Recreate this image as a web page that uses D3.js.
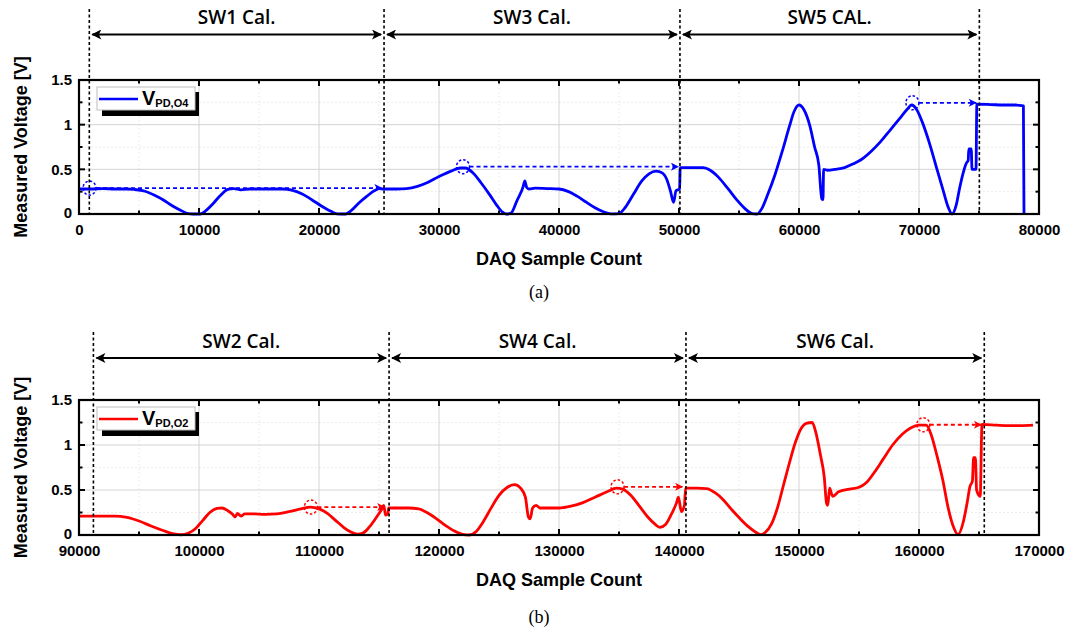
<!DOCTYPE html>
<html>
<head>
<meta charset="utf-8">
<script src="https://cdn.jsdelivr.net/npm/d3@7"></script>
<style>
body { margin: 0; background: #fff; }
</style>
</head>
<body>
<svg id="chart" width="1067" height="635" font-family="Liberation Sans, Arial, sans-serif"></svg>
<script>
// ---- data ----
// panel (a): V_PD,O4 (blue)
var blueX = [0,1000,2000,3000,4000,4600,5500,6300,7000,7800,8500,9100,9500,10100,10600,11200,11800,12400,12900,13500,14200,15500,17000,17800,18600,19400,20200,21000,21500,22200,22700,23300,24000,24600,25000,25400,26500,27300,28200,29000,30000,31000,31800,32200,32900,33500,34200,34800,35300,35600,36000,36500,37000,37150,37300,37500,38000,39000,40000,40800,41500,42300,43000,43700,44300,45000,45500,46200,46900,47500,48100,48600,49000,49300,49550,49750,50050,50100,51000,52000,52600,53300,54100,54800,55500,56100,56500,56900,57400,58000,58600,59200,59600,60000,60400,60900,61300,61650,61900,62000,62050,62400,63000,63800,64500,65200,66000,66800,67600,68400,69000,69400,69800,70300,70900,71500,72000,72450,72750,73100,73400,73700,73950,74100,74150,74350,74420,74750,74820,76000,77000,78000,78700,78750];
var blueV = [0.28,0.28,0.285,0.28,0.28,0.275,0.255,0.21,0.16,0.09,0.04,0.005,0,0,0.04,0.12,0.21,0.275,0.285,0.27,0.28,0.28,0.28,0.265,0.225,0.16,0.09,0.03,0.002,0,0.04,0.12,0.2,0.26,0.285,0.28,0.28,0.285,0.31,0.35,0.42,0.48,0.515,0.515,0.45,0.35,0.22,0.1,0.02,0,0.01,0.15,0.3,0.37,0.3,0.28,0.29,0.285,0.28,0.25,0.2,0.13,0.07,0.025,0.002,0.005,0.07,0.22,0.37,0.45,0.48,0.46,0.38,0.25,0.13,0.26,0.28,0.52,0.52,0.52,0.49,0.41,0.28,0.16,0.06,0.005,0,0.06,0.22,0.44,0.7,0.98,1.15,1.22,1.17,0.99,0.75,0.55,0.17,0.16,0.5,0.49,0.5,0.52,0.56,0.61,0.7,0.81,0.94,1.07,1.17,1.22,1.17,1.02,0.78,0.5,0.27,0.07,0,0.1,0.3,0.47,0.57,0.6,0.73,0.73,0.5,0.5,1.23,1.225,1.22,1.22,1.21,0];

// panel (b): V_PD,O2 (red)
var redX = [90000,91500,93000,94000,95000,96000,97000,97800,98500,99100,99700,100300,100900,101500,101900,102400,102800,103000,103200,103500,103800,104500,105500,106500,107500,108500,109300,110000,110700,111400,112100,112700,113200,113700,114200,114800,115200,115400,115550,115750,115800,116500,117500,118300,119000,119800,120500,121200,121900,122500,123100,123700,124300,125000,125700,126300,126800,127200,127450,127600,127800,128100,128400,129000,130000,131000,132000,133000,134000,134800,135300,136000,136700,137400,138000,138400,138900,139400,139800,139950,140200,140450,140550,141500,142300,143000,143700,144400,145100,145800,146400,146800,147200,147700,148200,148700,149200,149700,150200,150600,151100,151400,151800,152100,152300,152400,152550,152800,153300,154200,155000,155600,156300,157000,157800,158600,159300,160000,160600,161000,161500,162000,162400,162900,163250,163700,164000,164250,164450,164550,164700,164800,165100,165250,166500,167500,168500,169500];
var redV = [0.21,0.21,0.21,0.195,0.155,0.1,0.05,0.015,0.003,0.02,0.07,0.16,0.25,0.295,0.3,0.27,0.23,0.2,0.24,0.21,0.235,0.235,0.23,0.235,0.26,0.29,0.31,0.29,0.24,0.16,0.08,0.03,0.01,0.025,0.09,0.2,0.28,0.33,0.22,0.24,0.3,0.3,0.3,0.29,0.25,0.18,0.11,0.05,0.01,0,0.04,0.15,0.29,0.44,0.53,0.56,0.52,0.42,0.2,0.18,0.3,0.33,0.3,0.3,0.3,0.32,0.36,0.42,0.48,0.52,0.51,0.44,0.32,0.2,0.12,0.085,0.12,0.24,0.36,0.42,0.26,0.33,0.52,0.52,0.515,0.47,0.39,0.28,0.18,0.09,0.03,0.005,0.03,0.12,0.3,0.55,0.8,1.03,1.19,1.24,1.25,1.14,0.88,0.65,0.35,0.33,0.52,0.43,0.48,0.51,0.53,0.58,0.7,0.84,1.0,1.12,1.19,1.22,1.22,1.12,0.88,0.6,0.32,0.08,0.005,0.15,0.35,0.54,0.6,0.86,0.86,0.5,0.43,1.23,1.22,1.215,1.215,1.22];

// calibration windows (dashed boundaries) and their labels
var topBounds = [860, 25420, 50080, 75030];
var topTitles = ["SW1 Cal.", "SW3 Cal.", "SW5 CAL."];
var botBounds = [91200, 115840, 140580, 165440];
var botTitles = ["SW2 Cal.", "SW4 Cal.", "SW6 Cal."];

// dotted circle + dashed arrow markers: [circle x, level, arrow tip x]
var topMarks = [[875, 0.29, 25220], [32000, 0.53, 49930], [69450, 1.245, 74750]];
var botMarks = [[109320, 0.31, 115450], [134880, 0.535, 140280], [160360, 1.225, 165180]];

var topTicks = [0, 10000, 20000, 30000, 40000, 50000, 60000, 70000, 80000];
var botTicks = [90000, 100000, 110000, 120000, 130000, 140000, 150000, 160000, 170000];
var vTicks = [0, 0.5, 1, 1.5];
var vTickLabels = ["0", "0.5", "1", "1.5"];

var svg = d3.select("#chart");
var defs = svg.append("defs");

function head(id, color, w, h) {
  defs.append("marker").attr("id", id)
    .attr("viewBox", "0 0 10 10").attr("refX", 9).attr("refY", 5)
    .attr("markerWidth", w).attr("markerHeight", h).attr("markerUnits", "userSpaceOnUse")
    .attr("orient", "auto-start-reverse")
    .append("path").attr("d", "M0,0 L10,5 L0,10 L2.5,5 Z").attr("fill", color);
}
head("hk", "#000", 11, 10);
head("hb", "#0000ff", 10, 8);
head("hr", "#ff0000", 10, 8);

function drawPanel(o) {
  var left = 79, right = 1039;
  var x = d3.scaleLinear().domain(o.domain).range([left, right]);
  var y = d3.scaleLinear().domain([0, 1.5]).range([o.bottom, o.top]);
  var g = svg.append("g");

  // minor grid (faint)
  var minorX = d3.range(o.domain[0] + 5000, o.domain[1], 10000);
  var minorY = [0.25, 0.75, 1.25];
  g.selectAll(".mgx").data(minorX).enter().append("line")
    .attr("x1", d => x(d)).attr("x2", d => x(d)).attr("y1", o.top).attr("y2", o.bottom)
    .attr("stroke", "#ececec").attr("stroke-width", 1).attr("stroke-dasharray", "2,2");
  g.selectAll(".mgy").data(minorY).enter().append("line")
    .attr("x1", left).attr("x2", right).attr("y1", d => y(d)).attr("y2", d => y(d))
    .attr("stroke", "#ececec").attr("stroke-width", 1).attr("stroke-dasharray", "2,2");

  // major grid
  g.selectAll(".gx").data(o.ticks.slice(1, -1)).enter().append("line")
    .attr("x1", d => x(d)).attr("x2", d => x(d)).attr("y1", o.top).attr("y2", o.bottom)
    .attr("stroke", "#d4d4d4").attr("stroke-width", 1);
  g.selectAll(".gy").data(vTicks.slice(1, -1)).enter().append("line")
    .attr("x1", left).attr("x2", right).attr("y1", d => y(d)).attr("y2", d => y(d))
    .attr("stroke", "#d4d4d4").attr("stroke-width", 1);

  // inward ticks on all four sides
  var allX = d3.range(o.domain[0], o.domain[1] + 1, 5000);
  var allY = [0, 0.25, 0.5, 0.75, 1, 1.25, 1.5];
  function isMajorX(d) { return (d - o.domain[0]) % 10000 === 0; }
  function isMajorY(d) { return (d * 2) % 1 === 0; }
  allX.forEach(function(d) {
    var len = isMajorX(d) ? 6 : 3.5;
    g.append("line").attr("x1", x(d)).attr("x2", x(d)).attr("y1", o.bottom).attr("y2", o.bottom - len)
      .attr("stroke", "#000").attr("stroke-width", 2);
    g.append("line").attr("x1", x(d)).attr("x2", x(d)).attr("y1", o.top).attr("y2", o.top + len)
      .attr("stroke", "#000").attr("stroke-width", 2);
  });
  allY.forEach(function(d) {
    var len = isMajorY(d) ? 6 : 3.5;
    g.append("line").attr("x1", left).attr("x2", left + len).attr("y1", y(d)).attr("y2", y(d))
      .attr("stroke", "#000").attr("stroke-width", 2);
    g.append("line").attr("x1", right).attr("x2", right - len).attr("y1", y(d)).attr("y2", y(d))
      .attr("stroke", "#000").attr("stroke-width", 2);
  });

  // tick labels through d3 axes
  var xAxis = d3.axisBottom(x).tickValues(o.ticks).tickSize(0).tickPadding(10).tickFormat(d3.format("d"));
  var yAxis = d3.axisLeft(y).tickValues(vTicks).tickSize(0).tickPadding(7)
    .tickFormat(function(d, i) { return vTickLabels[i]; });
  var xa = g.append("g").attr("transform", "translate(0," + o.bottom + ")").call(xAxis);
  var ya = g.append("g").attr("transform", "translate(" + left + ",0)").call(yAxis);
  [xa, ya].forEach(function(a) {
    a.select(".domain").remove();
    a.attr("font-family", null).attr("font-size", null);
    a.selectAll("text").attr("font-family", "Liberation Sans, Arial, sans-serif")
      .attr("font-size", 15).attr("font-weight", "bold").attr("fill", "#000");
  });
  ya.selectAll("text").filter(d => d === 0).attr("dy", "0.2em");

  // data line
  var pts = o.xs.map(function(d, i) { return [d, o.vs[i]]; });
  var line = d3.line().x(d => x(d[0])).y(d => y(d[1])).curve(d3.curveMonotoneX);
  g.append("path").datum(pts).attr("d", line)
    .attr("fill", "none").attr("stroke", o.color).attr("stroke-width", 2.8)
    .attr("stroke-linejoin", "round");

  // circle + dashed arrow markers
  o.marks.forEach(function(m) {
    g.append("ellipse").attr("cx", x(m[0])).attr("cy", y(m[1])).attr("rx", 6.5).attr("ry", 7)
      .attr("fill", "none").attr("stroke", o.color).attr("stroke-width", 1.5).attr("stroke-dasharray", "2.5,2");
    g.append("line").attr("x1", x(m[0]) + 6.5).attr("x2", x(m[2])).attr("y1", y(m[1])).attr("y2", y(m[1]))
      .attr("stroke", o.color).attr("stroke-width", 1.8).attr("stroke-dasharray", "4,3")
      .attr("marker-end", "url(#" + o.head + ")");
  });

  // frame
  g.append("rect").attr("x", left).attr("y", o.top).attr("width", right - left).attr("height", o.bottom - o.top)
    .attr("fill", "none").attr("stroke", "#000").attr("stroke-width", 2.2);

  // calibration windows
  o.bounds.forEach(function(b) {
    g.append("line").attr("x1", x(b)).attr("x2", x(b)).attr("y1", o.dashTop).attr("y2", o.bottom)
      .attr("stroke", "#000").attr("stroke-width", 1.6).attr("stroke-dasharray", "3,2.5");
  });
  o.titles.forEach(function(t, i) {
    var a = x(o.bounds[i]), b = x(o.bounds[i + 1]);
    g.append("line").attr("x1", a + 3).attr("x2", b - 3).attr("y1", o.arrowY).attr("y2", o.arrowY)
      .attr("stroke", "#000").attr("stroke-width", 2.2)
      .attr("marker-start", "url(#hk)").attr("marker-end", "url(#hk)");
    g.append("text").attr("x", (a + b) / 2).attr("y", o.titleY)
      .attr("text-anchor", "middle").attr("font-family", "Open Sans, sans-serif")
      .attr("font-weight", 600).attr("font-size", 19).text(t);
  });

  // legend with shadow
  var lx = 97, ly = o.top + 7;
  g.append("rect").attr("x", lx + 5).attr("y", ly + 5).attr("width", 97).attr("height", 24).attr("fill", "#000");
  g.append("rect").attr("x", lx).attr("y", ly).attr("width", 98).attr("height", 23)
    .attr("fill", "#fff").attr("stroke", "#bdbdbd").attr("stroke-width", 1);
  g.append("line").attr("x1", lx + 2).attr("x2", lx + 41).attr("y1", ly + 12).attr("y2", ly + 12)
    .attr("stroke", o.color).attr("stroke-width", 2.5);
  var lt = g.append("text").attr("x", lx + 45).attr("y", ly + 18)
    .attr("font-weight", "bold").attr("font-size", 20);
  lt.append("tspan").text("V");
  lt.append("tspan").attr("font-size", 11).attr("dy", 2).text(o.sub);

  // axis titles and caption
  g.append("text").attr("transform", "translate(27," + ((o.top + o.bottom) / 2) + ") rotate(-90)")
    .attr("text-anchor", "middle").attr("font-weight", "bold").attr("font-size", 18)
    .text("Measured Voltage [V]");
  g.append("text").attr("x", 559).attr("y", o.bottom + 51)
    .attr("text-anchor", "middle").attr("font-weight", "bold").attr("font-size", 18)
    .text("DAQ Sample Count");
  g.append("text").attr("x", 539).attr("y", o.captionY)
    .attr("text-anchor", "middle").attr("font-family", "Liberation Serif, Times New Roman, serif")
    .attr("font-size", 18).text(o.caption);
}

drawPanel({
  top: 80, bottom: 214, domain: [0, 80000], ticks: topTicks,
  xs: blueX, vs: blueV, color: "#0000ff", head: "hb", marks: topMarks,
  bounds: topBounds, titles: topTitles, dashTop: 9, arrowY: 34.5, titleY: 24,
  sub: "PD,O4", caption: "(a)", captionY: 298
});
drawPanel({
  top: 400, bottom: 535, domain: [90000, 170000], ticks: botTicks,
  xs: redX, vs: redV, color: "#ff0000", head: "hr", marks: botMarks,
  bounds: botBounds, titles: botTitles, dashTop: 332, arrowY: 358, titleY: 348,
  sub: "PD,O2", caption: "(b)", captionY: 623
});
</script>
</body>
</html>
